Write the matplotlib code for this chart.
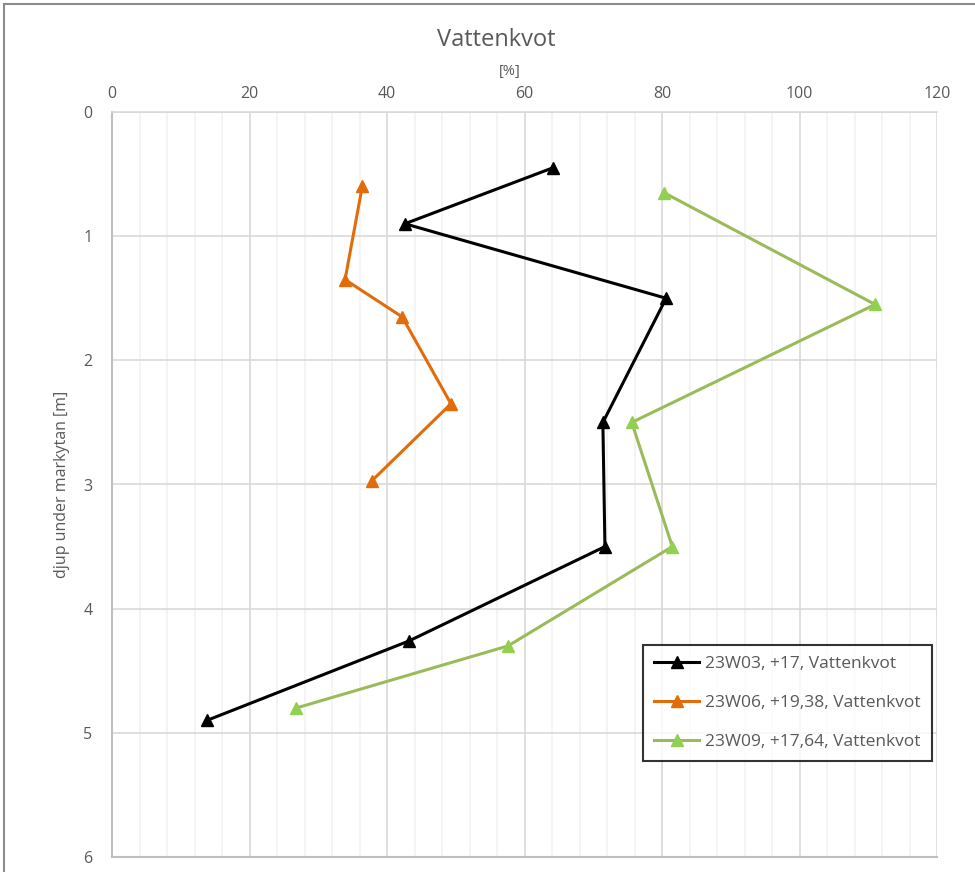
import matplotlib
matplotlib.use("Agg")
import matplotlib.pyplot as plt
from matplotlib.patches import Rectangle
from matplotlib.ticker import MultipleLocator

plt.rcParams['font.family'] = ['Open Sans', 'DejaVu Sans']

# Water content profiles: (value [%], depth [m])
w03_val = [64.1, 42.6, 80.6, 71.4, 71.7, 43.2, 13.8]
w03_dep = [0.45, 0.90, 1.50, 2.50, 3.50, 4.26, 4.90]

w06_val = [36.4, 33.9, 42.2, 49.3, 37.8]
w06_dep = [0.60, 1.35, 1.65, 2.35, 2.97]

w09_val = [80.3, 111.0, 75.6, 81.5, 57.6, 26.8]
w09_dep = [0.65, 1.55, 2.50, 3.50, 4.30, 4.80]

labels = ["23W03, +17, Vattenkvot",
          "23W06, +19,38, Vattenkvot",
          "23W09, +17,64, Vattenkvot"]

W, H = 975, 872
fig = plt.figure(figsize=(W / 100, H / 100), dpi=100)
ax = fig.add_axes([112 / W, 1 - 857 / H, (937 - 112) / W, (857 - 112) / H])

text_col = '#595959'

ax.plot(w03_val, w03_dep, color='black', lw=2.2, marker='^', ms=8,
        mfc='black', mec='black', label=labels[0], zorder=4)
ax.plot(w06_val, w06_dep, color='#E36C0A', lw=2.2, marker='^', ms=8,
        mfc='#E36C0A', mec='#E36C0A', label=labels[1], zorder=4)
ax.plot(w09_val, w09_dep, color='#9BBB59', lw=2.2, marker='^', ms=8,
        mfc='#92D050', mec='#92D050', label=labels[2], zorder=4)

ax.set_xlim(0, 120)
ax.set_ylim(6, 0)
ax.xaxis.set_major_locator(MultipleLocator(20))
ax.xaxis.set_minor_locator(MultipleLocator(4))
ax.yaxis.set_major_locator(MultipleLocator(1))
ax.xaxis.tick_top()
ax.tick_params(axis='both', which='both', length=0, labelsize=11.5,
               colors=text_col)
ax.tick_params(axis='x', pad=7)
ax.tick_params(axis='y', pad=14)

ax.grid(which='major', color='#D9D9D9', lw=1.2, zorder=0)
ax.grid(which='minor', axis='x', color='#F2F2F2', lw=1.2, zorder=0)
ax.set_axisbelow(True)

for side in ['right', 'bottom']:
    ax.spines[side].set_visible(False)
ax.spines['top'].set_color('#D9D9D9')
ax.spines['top'].set_linewidth(1.2)
ax.spines['left'].set_color('#BFBFBF')
ax.spines['left'].set_linewidth(1.5)
ax.axhline(6, color='#BFBFBF', lw=1.5, clip_on=False, zorder=1)

ax.set_ylabel("djup under markytan [m]", fontsize=11.5, color=text_col,
              labelpad=10)

fig.text(496 / W, 1 - 40 / H, "Vattenkvot", fontsize=17, color=text_col,
         ha='center', va='center')
fig.text(510 / W, 1 - 71 / H, "[%]", fontsize=10.5, color=text_col,
         ha='center', va='center')

leg = ax.legend(loc='upper left', bbox_to_anchor=((643 - 112) / (937 - 112),
                1 - (645 - 112) / (857 - 112)),
                frameon=True, fancybox=False, edgecolor='black',
                fontsize=12.5, labelcolor=text_col, borderpad=0.65,
                labelspacing=1.3, handlelength=2.6, handletextpad=0.3,
                borderaxespad=0)
leg.get_frame().set_linewidth(1.5)

# outer chart frame
fig.patches.append(Rectangle((4 / W, -0.1), 1.2, (1 - 4 / H) + 0.1,
                             transform=fig.transFigure, fill=False,
                             edgecolor='#8C8C8C', lw=1.5))

fig.savefig("out.png", dpi=100)
